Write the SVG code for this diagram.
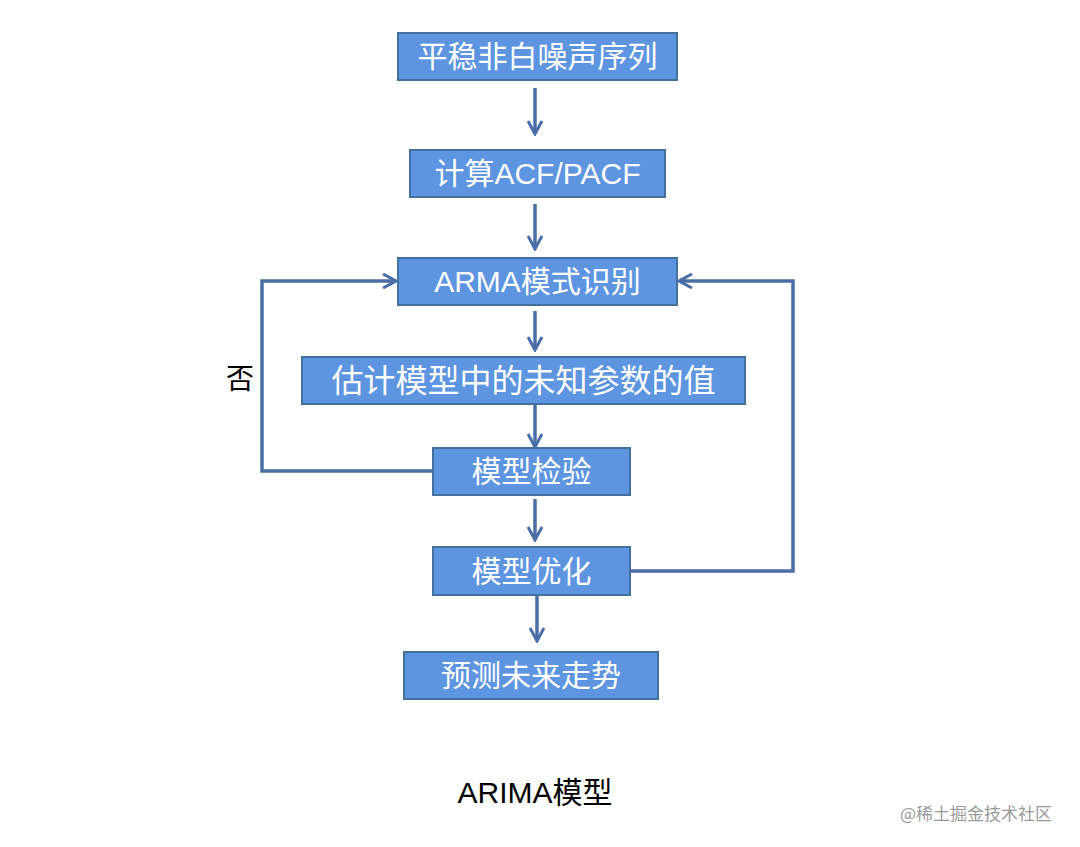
<svg xmlns="http://www.w3.org/2000/svg" width="1080" height="847" viewBox="0 0 1080 847">
<style>
.box{fill:#5e95e0;stroke:#41719c;stroke-width:2}
.t{fill:#ffffff;font-family:"Liberation Sans","Noto Sans CJK SC",sans-serif;font-size:30px;text-anchor:middle}
.c{fill:none;stroke:#4a6fa8;stroke-width:3.5}
.lbl{fill:#000;font-family:"Liberation Sans","Noto Sans CJK SC",sans-serif;text-anchor:middle}
</style>
<defs>
<marker id="ahb" viewBox="0 0 16 16" refX="14" refY="8" markerWidth="16" markerHeight="16" markerUnits="userSpaceOnUse" orient="auto">
<path d="M1,1 L14,8 L1,15" fill="none" stroke="#4a6fa8" stroke-width="3"/>
</marker>
</defs>
<rect width="1080" height="847" fill="#ffffff"/>
<g id="connectors">
<line class="c" x1="535" y1="88" x2="535" y2="134" marker-end="url(#ahb)"/>
<line class="c" x1="535" y1="204" x2="535" y2="249" marker-end="url(#ahb)"/>
<line class="c" x1="535" y1="311" x2="535" y2="350" marker-end="url(#ahb)"/>
<line class="c" x1="535" y1="404" x2="535" y2="447" marker-end="url(#ahb)"/>
<line class="c" x1="535" y1="499" x2="535" y2="540" marker-end="url(#ahb)"/>
<line class="c" x1="537" y1="595" x2="537" y2="641" marker-end="url(#ahb)"/>
<polyline class="c" points="433,471 262,471 262,281 396,281" marker-end="url(#ahb)"/>
<polyline class="c" points="630,571 793,571 793,281 679,281" marker-end="url(#ahb)"/>
</g>
<g id="n1"><rect class="box" x="398" y="33" width="279" height="47"/><text class="t" x="537.5" y="67">平稳非白噪声序列</text></g>
<g id="n2"><rect class="box" x="410" y="150" width="255" height="47"/><text class="t" x="537.5" y="184">计算ACF/PACF</text></g>
<g id="n3"><rect class="box" x="398" y="258" width="279" height="47"/><text class="t" x="537.5" y="292">ARMA模式识别</text></g>
<g id="n4"><rect class="box" x="302" y="357" width="443" height="47"/><text class="t" x="523.5" y="392" style="font-size:32px">估计模型中的未知参数的值</text></g>
<g id="n5"><rect class="box" x="433" y="448" width="197" height="47"/><text class="t" x="531.5" y="482">模型检验</text></g>
<g id="n6"><rect class="box" x="433" y="547" width="197" height="48"/><text class="t" x="531.5" y="582">模型优化</text></g>
<g id="n7"><rect class="box" x="404" y="652" width="254" height="47"/><text class="t" x="531" y="686">预测未来走势</text></g>
<g id="labels">
<text class="lbl" x="240" y="389" font-size="28">否</text>
<text class="lbl" x="535" y="803" font-size="30">ARIMA模型</text>
<text x="976" y="820" font-size="17" fill="#9a9a9a" font-family="Noto Sans CJK SC,Liberation Sans,sans-serif" text-anchor="middle">@稀土掘金技术社区</text>
</g>
</svg>
